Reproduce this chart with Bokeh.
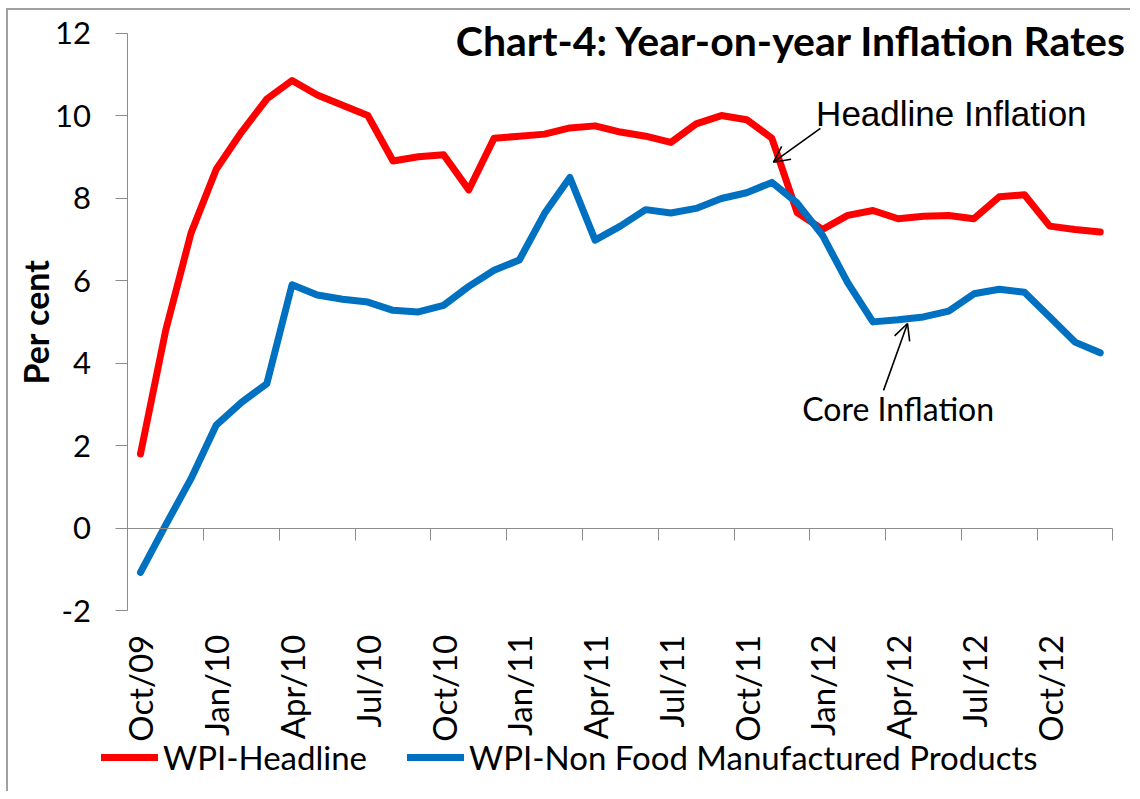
import math
from bokeh.plotting import figure
from bokeh.models import (Range1d, LinearAxis, FixedTicker, Legend, LegendItem,
                          Label, Arrow, OpenHead, ColumnDataSource)
from bokeh.embed import file_html
from bokeh.resources import INLINE

months = ["Oct/09", "Nov/09", "Dec/09",
          "Jan/10", "Feb/10", "Mar/10", "Apr/10", "May/10", "Jun/10",
          "Jul/10", "Aug/10", "Sep/10", "Oct/10", "Nov/10", "Dec/10",
          "Jan/11", "Feb/11", "Mar/11", "Apr/11", "May/11", "Jun/11",
          "Jul/11", "Aug/11", "Sep/11", "Oct/11", "Nov/11", "Dec/11",
          "Jan/12", "Feb/12", "Mar/12", "Apr/12", "May/12", "Jun/12",
          "Jul/12", "Aug/12", "Sep/12", "Oct/12", "Nov/12", "Dec/12"]

wpi_headline = [1.8, 4.8, 7.15, 8.7, 9.6, 10.4, 10.85, 10.5, 10.25, 10.0,
                8.9, 9.0, 9.05, 8.2, 9.45, 9.5, 9.55, 9.7, 9.75, 9.6,
                9.5, 9.35, 9.8, 10.0, 9.9, 9.45, 7.65, 7.24, 7.58, 7.7,
                7.5, 7.56, 7.58, 7.5, 8.03, 8.08, 7.32, 7.24, 7.18]

wpi_core = [-1.07, 0.08, 1.2, 2.5, 3.05, 3.5, 5.9, 5.65, 5.55, 5.48,
            5.28, 5.24, 5.4, 5.86, 6.25, 6.5, 7.63, 8.5, 6.98, 7.32,
            7.72, 7.64, 7.75, 7.99, 8.13, 8.38, 7.88, 7.1, 5.95, 5.0,
            5.05, 5.12, 5.26, 5.68, 5.79, 5.72, 5.12, 4.51, 4.25]

y_ticks = [-2, 0, 2, 4, 6, 8, 10, 12]
y_tick_labels = ["-2", "0", "2", "4", "6", "8", "10", "12"]
label_every = 3

FONT = "Lato"
GREY = "#8c8c8c"

n = len(months)
idx = list(range(n))
src = ColumnDataSource(dict(x=idx, head=wpi_headline, core=wpi_core))

# canvas geometry (px): whole canvas is the frame, axes are pinned inside it
W, H = 1124, 783
X0 = 132.0            # canvas px of first category centre
PX_X = 985.0 / n      # px per category
Y_ZERO = 517.7        # canvas px of value 0
PX_Y = 577.7 / (y_ticks[-1] - y_ticks[0])

p = figure(width=W, height=H,
           x_range=Range1d(-X0 / PX_X, (W - X0) / PX_X),
           y_range=Range1d((Y_ZERO - H) / PX_Y, Y_ZERO / PX_Y),
           output_backend="svg", toolbar_location=None,
           min_border=0, x_axis_location=None, y_axis_location=None)
p.outline_line_color = None
p.grid.visible = False
p.background_fill_color = "white"
p.border_fill_color = "white"
p.styles = {"margin-left": "6px", "margin-top": "8px",
            "border-top": "2px solid #a0a0a0", "border-left": "2px solid #a0a0a0"}

r_head = p.line("x", "head", source=src, line_color="#FF0000", line_width=7,
                line_join="round", line_cap="round")
r_core = p.line("x", "core", source=src, line_color="#0070C0", line_width=7,
                line_join="round", line_cap="round")

# y axis pinned at the left edge of the category area
ya = LinearAxis(fixed_location=-0.5, ticker=FixedTicker(ticks=y_ticks),
                major_label_overrides=dict(zip(y_ticks, y_tick_labels)),
                bounds=(y_ticks[0], y_ticks[-1]),
                axis_line_color=GREY, major_tick_line_color=GREY,
                major_tick_out=12, major_tick_in=0, minor_tick_line_color=None,
                major_label_text_font=FONT, major_label_text_font_size="31px",
                major_label_text_color="black", major_label_standoff=25,
                axis_label="Per cent", axis_label_text_font=FONT,
                axis_label_text_font_style="bold", axis_label_text_font_size="34px",
                axis_label_text_color="black", axis_label_standoff=-4)
p.add_layout(ya, "left")

# month labels along the bottom of the value range
label_pos = idx[::label_every]
xa = LinearAxis(fixed_location=y_ticks[0], ticker=FixedTicker(ticks=label_pos),
                major_label_overrides={i: months[i] for i in label_pos},
                major_label_orientation=math.pi / 2,
                axis_line_color=None, major_tick_line_color=None,
                minor_tick_line_color=None,
                major_label_text_font=FONT, major_label_text_font_size="33px",
                major_label_text_color="black", major_label_standoff=18)
p.add_layout(xa, "below")

# x axis line at zero with boundary ticks every 3 months
bounds = [i - 0.5 for i in range(0, n + 1, label_every)]
xz = LinearAxis(fixed_location=0, ticker=FixedTicker(ticks=bounds),
                bounds=(-0.5, n - 0.5),
                axis_line_color=GREY, major_tick_line_color=GREY,
                major_tick_out=12, major_tick_in=0, minor_tick_line_color=None,
                major_label_text_color=None, major_label_text_font_size="1px")
p.add_layout(xz, "below")

# title
p.add_layout(Label(x=39.08, y=11.82, text="Chart-4: Year-on-year Inflation Rates",
                   text_align="right", text_baseline="alphabetic",
                   text_font=FONT, text_font_style="bold", text_font_size="41px",
                   text_color="black"))

# annotations
p.add_layout(Arrow(end=OpenHead(size=16, line_width=1.6, line_color="black"),
                   x_start=26.92, y_start=9.69, x_end=25.06, y_end=8.87,
                   line_width=1.6, line_color="black"))
p.add_layout(Label(x=26.75, y=10.06, text="Headline Inflation",
                   text_baseline="alphabetic", text_font="Liberation Sans",
                   text_font_size="35px", text_color="black"))
p.add_layout(Arrow(end=OpenHead(size=16, line_width=1.6, line_color="black"),
                   x_start=29.42, y_start=3.34, x_end=30.37, y_end=4.96,
                   line_width=1.6, line_color="black"))
p.add_layout(Label(x=26.2, y=2.89, text="Core Inflation",
                   text_baseline="alphabetic", text_font=FONT,
                   text_font_size="32px", text_color="black"))

legend = Legend(items=[LegendItem(label="WPI-Headline", renderers=[r_head]),
                       LegendItem(label="WPI-Non Food Manufactured Products", renderers=[r_core])],
                orientation="horizontal", location=(93, 16),
                border_line_color=None, background_fill_alpha=0,
                label_text_font=FONT, label_text_font_size="33px",
                label_text_color="black", glyph_width=57, glyph_height=34,
                label_standoff=5, spacing=40, padding=0, margin=0)
p.add_layout(legend, "center")

open("out.html", "w").write(file_html(p, INLINE))
